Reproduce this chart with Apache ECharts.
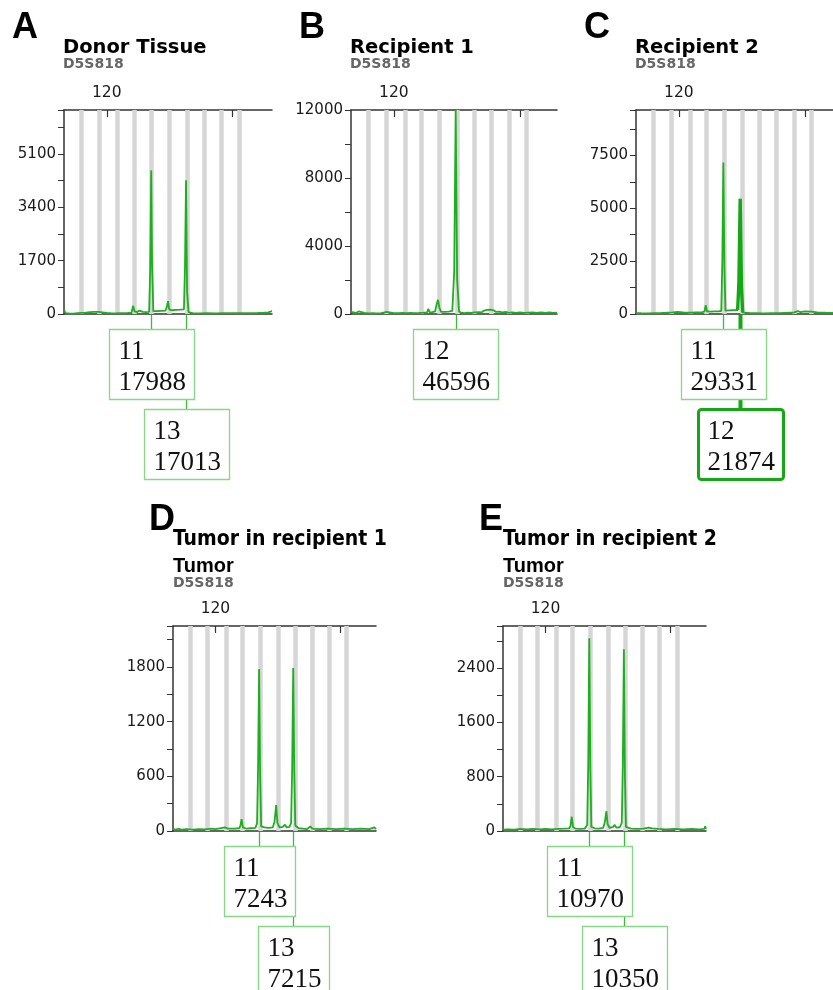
<!DOCTYPE html>
<html>
<head>
<meta charset="utf-8">
<script src="https://cdn.jsdelivr.net/npm/echarts@6.0.0/dist/echarts.min.js"></script>
<style>
  html, body { margin: 0; padding: 0; background: #fff; }
  #main { width: 833px; height: 990px; }
</style>
</head>
<body>
<div id="main"></div>
<script>
// allele bins (bp), same for every panel
const bins = [113.9, 118.1, 122.6, 126.5, 130.7, 135.0, 139.1, 143.2, 147.4, 151.5]
const xTicks = [120, 150]
const xTickLabels = [120]

// traces: [size bp, RFU]
const traceA = [[109.8,130],[110.2,30],[111,20],[112,15],[113,25],[114,35],[115,45],[116,60],[117,70],[118,65],[119,50],[120,35],[121,25],[122,20],[123,25],[124,30],[125,35],[125.9,45],[126.3,260],[126.6,90],[127.2,60],[127.8,110],[128.2,120],[128.6,70],[129.4,60],[130.1,70],[130.35,1400],[130.6,4576],[130.8,1600],[131.1,90],[132,90],[133,100],[134.0,110],[134.3,220],[134.6,410],[134.9,150],[135.5,120],[136.5,130],[137.5,140],[138.4,150],[138.65,1500],[138.9,4258],[139.15,700],[139.5,60],[140.5,30],[142,20],[144,25],[146,20],[148,25],[150,30],[152,25],[154,30],[156,35],[157.5,40],[158.5,55],[159.4,90]]
const traceB = [[109.8,120],[110.2,40],[111,60],[111.6,150],[112,50],[113,60],[114,40],[115,55],[115.4,130],[115.8,40],[117,50],[118.3,120],[118.6,40],[120,55],[121,45],[122,60],[123,50],[124,70],[125,55],[126,60],[127,80],[127.9,100],[128.2,300],[128.5,110],[129,90],[129.8,150],[130.2,600],[130.5,830],[130.8,400],[131.2,130],[132,120],[133,140],[133.9,180],[134.35,2500],[134.7,12000],[135.05,2000],[135.5,150],[136,80],[136.8,50],[137.6,80],[138.4,60],[139.2,100],[139.6,70],[140.2,110],[140.8,90],[141.3,180],[141.7,120],[142.1,240],[142.5,160],[142.9,260],[143.3,150],[143.8,210],[144.3,120],[145,140],[145.8,90],[146.6,120],[147.4,70],[148.2,100],[149,60],[150,90],[151,60],[152,80],[153,90],[154,60],[155,100],[156,60],[157,90],[158,70],[158.8,80]]
const traceC = [[109.8,40],[111,35],[112.5,30],[114,40],[115.5,45],[117,60],[118.5,80],[119.7,100],[121,80],[122.5,60],[124,70],[125.5,80],[126.1,120],[126.4,420],[126.7,130],[127.5,110],[128.5,120],[129.5,130],[130.1,140],[130.35,2500],[130.6,7163],[130.85,2200],[131.1,160],[132,170],[133,180],[134,190],[134.3,1500],[134.6,5455],[134.9,1300],[135.2,80],[136,60],[137,40],[138.5,35],[140,30],[142,35],[144,40],[146,60],[147.5,80],[148.3,140],[149,90],[150,120],[151.5,110],[153,80],[155,60],[156.7,50]]
const peakC12 = [[134,190],[134.3,1500],[134.6,5455],[134.9,1300],[135.2,80]]
const traceD = [[109.8,20],[110.5,15],[111,25],[111.8,15],[113,20],[114.5,15],[116,20],[117.5,18],[119,25],[120,20],[121,30],[122.3,40],[123,25],[124.5,25],[125.7,30],[126.0,60],[126.3,130],[126.6,40],[127.5,25],[128.5,30],[129.6,35],[130.0,80],[130.25,700],[130.5,1777],[130.75,600],[131.0,50],[131.8,40],[132.8,35],[133.8,40],[134.2,100],[134.6,285],[134.9,90],[135.4,40],[136.2,45],[136.7,70],[137.1,40],[137.8,45],[138.2,90],[138.45,700],[138.7,1788],[138.95,650],[139.2,60],[140,30],[141,25],[142,20],[142.8,50],[143.3,25],[145,20],[147,25],[149,20],[151,25],[153,20],[155,25],[157,20],[158.2,40],[158.6,20]]
const traceE = [[109.8,20],[111,25],[112.5,20],[114,30],[115.5,25],[117,30],[118.5,25],[120,30],[121.5,25],[123,30],[124.5,35],[125.7,40],[126.0,80],[126.3,210],[126.6,60],[127.2,35],[128.2,30],[129.4,35],[130.0,90],[130.25,1000],[130.5,2838],[130.75,900],[131.0,60],[131.8,40],[132.8,35],[133.8,45],[134.2,120],[134.6,294],[134.9,100],[135.4,45],[136.2,60],[136.6,90],[137,50],[137.8,55],[138.3,120],[138.55,1000],[138.8,2676],[139.05,800],[139.3,60],[140.5,35],[142,30],[143.5,35],[144.8,50],[145.1,75],[145.5,40],[147,30],[149,25],[151,30],[153,25],[155,30],[157,25],[158.1,30],[158.3,70],[158.5,30]]

// allele calls: [allele, peak area, size bp]
const callsA = [['11', 17988, 130.6], ['13', 17013, 138.9]]
const callsB = [['12', 46596, 134.7]]
const callsC = [['11', 29331, 130.6], ['12', 21874, 134.6]]
const callsD = [['11', 7243, 130.5], ['13', 7215, 138.7]]
const callsE = [['11', 10970, 130.5], ['13', 10350, 138.8]]

// y axis: [max, tick step, label step]
const yAxisA = [6500, 850, 1700]
const yAxisB = [12000, 2000, 4000]
const yAxisC = [9650, 1250, 2500]
const yAxisD = [2250, 300, 600]
const yAxisE = [3020, 400, 800]

const xMin = 109.8
const panels = [
  { letter: 'A', title: 'Donor Tissue', sub: null, trace: traceA, calls: callsA, y: yAxisA, xMax: 159.4, grid: { left: 64, top: 110, width: 208, height: 204 } },
  { letter: 'B', title: 'Recipient 1', sub: null, trace: traceB, calls: callsB, y: yAxisB, xMax: 158.8, grid: { left: 351, top: 110, width: 206, height: 204 } },
  { letter: 'C', title: 'Recipient 2', sub: null, trace: traceC, calls: callsC, y: yAxisC, xMax: 156.7, grid: { left: 636, top: 110, width: 197, height: 204 }, highlight: 1 },
  { letter: 'D', title: 'Tumor in recipient 1', sub: 'Tumor', trace: traceD, calls: callsD, y: yAxisD, xMax: 158.6, grid: { left: 173, top: 626, width: 203, height: 205 } },
  { letter: 'E', title: 'Tumor in recipient 2', sub: 'Tumor', trace: traceE, calls: callsE, y: yAxisE, xMax: 158.5, grid: { left: 503, top: 626, width: 203, height: 205 } }
]

const GREEN = '#1fae1f'
const AXIS = '#333'

const chart = echarts.init(document.getElementById('main'))

const xAxis = []
const yAxis = []
const series = []
panels.forEach((p, i) => {
  xAxis.push({
    type: 'value', gridIndex: i, position: 'top', min: xMin, max: p.xMax,
    axisLine: { show: true, onZero: false, lineStyle: { color: AXIS, width: 1.5 } },
    axisTick: { show: true, inside: true, length: 7, customValues: xTicks, lineStyle: { color: AXIS, width: 1.2 } },
    axisLabel: { show: true, customValues: xTickLabels, margin: 9, fontSize: 15.5, fontFamily: 'DejaVu Sans', color: '#1a1a1a' },
    splitLine: { show: false }
  })
  xAxis.push({
    type: 'value', gridIndex: i, position: 'bottom', min: xMin, max: p.xMax,
    axisLine: { show: true, onZero: false, lineStyle: { color: AXIS, width: 1.5 } },
    axisTick: { show: false }, axisLabel: { show: false }, splitLine: { show: false }
  })
  yAxis.push({
    type: 'value', gridIndex: i, min: 0, max: p.y[0], interval: p.y[1],
    axisLine: { show: true, onZero: false, lineStyle: { color: AXIS, width: 1.5 } },
    axisTick: { show: true, length: 6, lineStyle: { color: AXIS, width: 1 } },
    axisLabel: {
      margin: 8, fontSize: 15, fontFamily: 'DejaVu Sans', color: '#1a1a1a',
      formatter: v => (v % p.y[2] === 0 ? String(v) : '')
    },
    splitLine: { show: false }
  })
  series.push({
    type: 'line', xAxisIndex: 2 * i, yAxisIndex: i, data: [], z: 1, silent: true,
    markLine: {
      z: 1, silent: true, symbol: ['none', 'none'], animation: false,
      label: { show: false },
      lineStyle: { color: '#d6d6d6', width: 4.5, type: 'solid' },
      emphasis: { disabled: true },
      data: bins.map(b => ({ xAxis: b }))
    }
  })
  series.push({
    type: 'line', xAxisIndex: 2 * i, yAxisIndex: i, data: p.trace, z: 10,
    showSymbol: false, symbol: 'none', clip: true, silent: true,
    lineStyle: { color: GREEN, width: 1.8 }
  })
})
series.push({
  type: 'line', xAxisIndex: 4, yAxisIndex: 2, data: peakC12, z: 11,
  showSymbol: false, symbol: 'none', clip: true, silent: true,
  lineStyle: { color: '#15a815', width: 3.4 }
})

chart.setOption({
  animation: false,
  grid: panels.map(p => Object.assign({ containLabel: false }, p.grid)),
  xAxis, yAxis, series
})

// ---- texts, connectors and allele boxes ----
const ctx = document.createElement('canvas').getContext('2d')
const BOX_FONT = '27px "Liberation Serif", "Times New Roman", serif'
ctx.font = BOX_FONT

const graphic = []
const txt = (x, y, text, font, fill) => graphic.push({
  type: 'text', x, y, z: 100,
  style: { text, font, fill: fill || '#000', align: 'left', verticalAlign: 'middle' }
})

panels.forEach((p, i) => {
  const L = p.grid.left
  const T = p.grid.top
  if (p.sub) {
    txt(L - 24, T - 106, p.letter, 'bold 36px "Liberation Sans", Arial, sans-serif')
    txt(L, T - 86, p.title, 'bold 21px "DejaVu Sans Condensed", "Liberation Sans Narrow", sans-serif')
    txt(L, T - 60, p.sub, 'bold 20px "Liberation Sans", Arial, sans-serif')
    txt(L, T - 43, 'D5S818', 'bold 14px "DejaVu Sans", sans-serif', '#666')
  } else {
    txt(L - 52, T - 82, p.letter, 'bold 36px "Liberation Sans", Arial, sans-serif')
    txt(L - 1, T - 62, p.title, 'bold 19.5px "DejaVu Sans", sans-serif')
    txt(L - 1, T - 46, 'D5S818', 'bold 14px "DejaVu Sans", sans-serif', '#666')
  }

  const axisY = chart.convertToPixel({ yAxisIndex: i }, 0) + 1
  const boxH = 70
  const tops = p.calls.map((c, j) => axisY + 14 + j * (boxH + 10))
  p.calls.forEach((c, j) => {
    const x = Math.round(chart.convertToPixel({ xAxisIndex: 2 * i }, c[2])) + 0.5
    const hi = p.highlight === j
    graphic.push({
      type: 'line', z: 90, silent: true,
      shape: { x1: x, y1: axisY, x2: x, y2: tops[j] },
      style: { stroke: hi ? '#15a815' : '#3cbc3c', lineWidth: hi ? 4 : 1.3 }
    })
  })
  p.calls.forEach((c, j) => {
    const x = chart.convertToPixel({ xAxisIndex: 2 * i }, c[2])
    const hi = p.highlight === j
    const text = c[0] + '\n' + c[1]
    const w = Math.max(ctx.measureText(c[0]).width, ctx.measureText(String(c[1])).width) + 17
    const left = Math.round(x - w / 2) + 0.5
    graphic.push({
      type: 'rect', z: 95, silent: true,
      shape: { x: left, y: tops[j] + 0.5, width: Math.round(w), height: boxH, r: hi ? 3 : 0 },
      style: { fill: '#fff', stroke: hi ? '#15a815' : '#86d886', lineWidth: hi ? 3 : 1.3 }
    })
    graphic.push({
      type: 'text', z: 96, silent: true,
      x: left + 9, y: tops[j] + 7,
      style: { text, font: BOX_FONT, fill: '#111', lineHeight: 31, align: 'left', verticalAlign: 'top' }
    })
  })
})

chart.setOption({ graphic })
window.addEventListener('resize', () => chart.resize())
</script>
</body>
</html>
